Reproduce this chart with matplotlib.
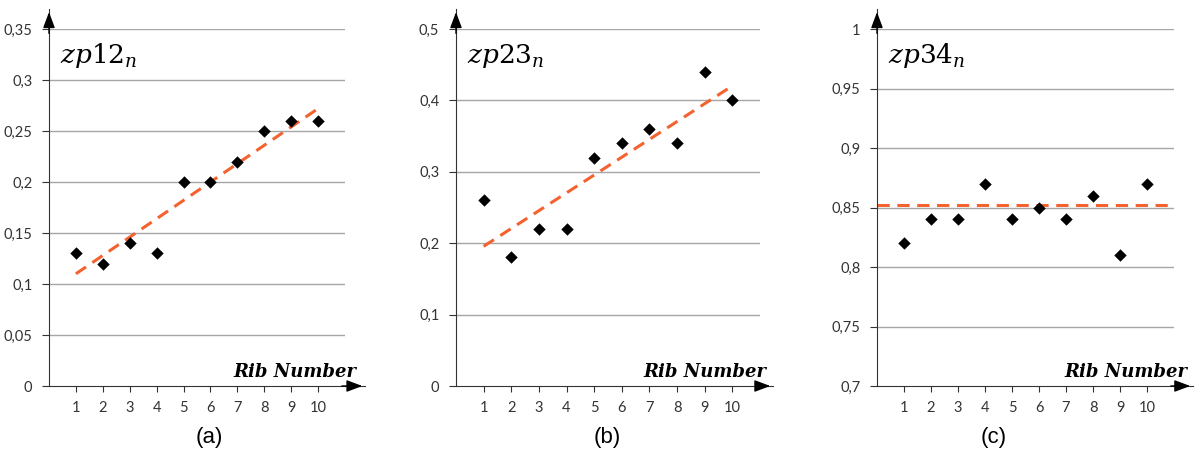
import matplotlib
matplotlib.use("Agg")
import matplotlib.pyplot as plt
import numpy as np

ribs = np.arange(1, 11)
zp12 = [0.13, 0.12, 0.14, 0.13, 0.20, 0.20, 0.22, 0.25, 0.26, 0.26]
zp23 = [0.26, 0.18, 0.22, 0.22, 0.32, 0.34, 0.36, 0.34, 0.44, 0.40]
zp34 = [0.82, 0.84, 0.84, 0.87, 0.84, 0.85, 0.84, 0.86, 0.81, 0.87]
zp34_level = 0.852

titles = [r"$zp12_n$", r"$zp23_n$", r"$zp34_n$"]
captions = ["(a)", "(b)", "(c)"]
yticks = [np.arange(0, 0.351, 0.05), np.arange(0, 0.51, 0.1), np.arange(0.7, 1.001, 0.05)]
ylabels = [["0", "0,05", "0,1", "0,15", "0,2", "0,25", "0,3", "0,35"],
           ["0", "0,1", "0,2", "0,3", "0,4", "0,5"],
           ["0,7", "0,75", "0,8", "0,85", "0,9", "0,95", "1"]]

plt.rcParams['mathtext.fontset'] = 'dejavuserif'
W, H = 1199, 453
fig = plt.figure(figsize=(W / 100, H / 100), dpi=100)

# pixel geometry of each panel: left of y axis, width up to x=11
lefts = [49, 456, 877]
widths = [296, 304, 297]
xarrow = [1.068, 1.043, 1.064]
ribx = [1.04, 1.02, 1.045]
capx = [209, 607, 994]
top, bottom = 29, 386

datasets = [zp12, zp23, zp34]
for i in range(3):
    ax = fig.add_axes([lefts[i] / W, 1 - bottom / H, widths[i] / W, (bottom - top) / H])
    y = datasets[i]
    ax.set_xlim(0, 11)
    ax.set_ylim(yticks[i][0], yticks[i][-1])
    for t in yticks[i][1:]:
        ax.axhline(t, color="#a6a6a6", lw=1, zorder=1)
    if i < 2:
        k, b = np.polyfit(ribs, y, 1)
        ax.plot([1, 10], [k + b, 10 * k + b], ls=(0, (4, 2.5)), color="#f4622f", lw=2.2, zorder=2)
    else:
        ax.axhline(zp34_level, ls=(0, (4, 2.5)), color="#f4622f", lw=2.2, zorder=2)
    ax.scatter(ribs, y, marker="D", s=40, color="black", zorder=3, linewidths=0)

    for s in ["top", "right"]:
        ax.spines[s].set_visible(False)
    for s in ["left", "bottom"]:
        ax.spines[s].set_color("#333333")
    head = "-|>,head_length=0.8,head_width=0.3"
    ax.annotate("", xy=(0, 1.055), xycoords="axes fraction", xytext=(0, 0.98),
                arrowprops=dict(arrowstyle=head, color="black", lw=1, mutation_scale=12))
    ax.annotate("", xy=(xarrow[i], 0), xycoords="axes fraction", xytext=(0.98, 0),
                arrowprops=dict(arrowstyle=head, color="black", lw=1, mutation_scale=12))
    ax.plot([1, xarrow[i]], [0, 0], transform=ax.transAxes, color="#333333", lw=0.8, clip_on=False)
    ax.plot([0, 0], [1, 1.055], transform=ax.transAxes, color="#333333", lw=0.8, clip_on=False)

    ax.set_xticks(ribs)
    ax.set_xticklabels([str(r) for r in ribs], fontsize=10.5, color="#333333", family="Lato")
    ax.set_yticks(yticks[i])
    ax.set_yticklabels(ylabels[i], fontsize=10.5, color="#333333", family="Lato")
    ax.tick_params(axis="x", length=4, pad=7, color="#333333")
    ax.tick_params(axis="y", length=5, pad=7, color="#333333")

    ax.text(0.037, 0.925, titles[i], transform=ax.transAxes, fontsize=19, va="center", ha="left")
    ax.text(ribx[i], 0.038, "Rib Number", transform=ax.transAxes, fontsize=13,
            fontweight="bold", fontstyle="italic", family="DejaVu Serif",
            ha="right", va="center")
    fig.text(capx[i] / W, 1 - 438 / H, captions[i], fontsize=16, family="Liberation Sans",
             ha="center", va="center")

fig.savefig("out.png", dpi=100)
